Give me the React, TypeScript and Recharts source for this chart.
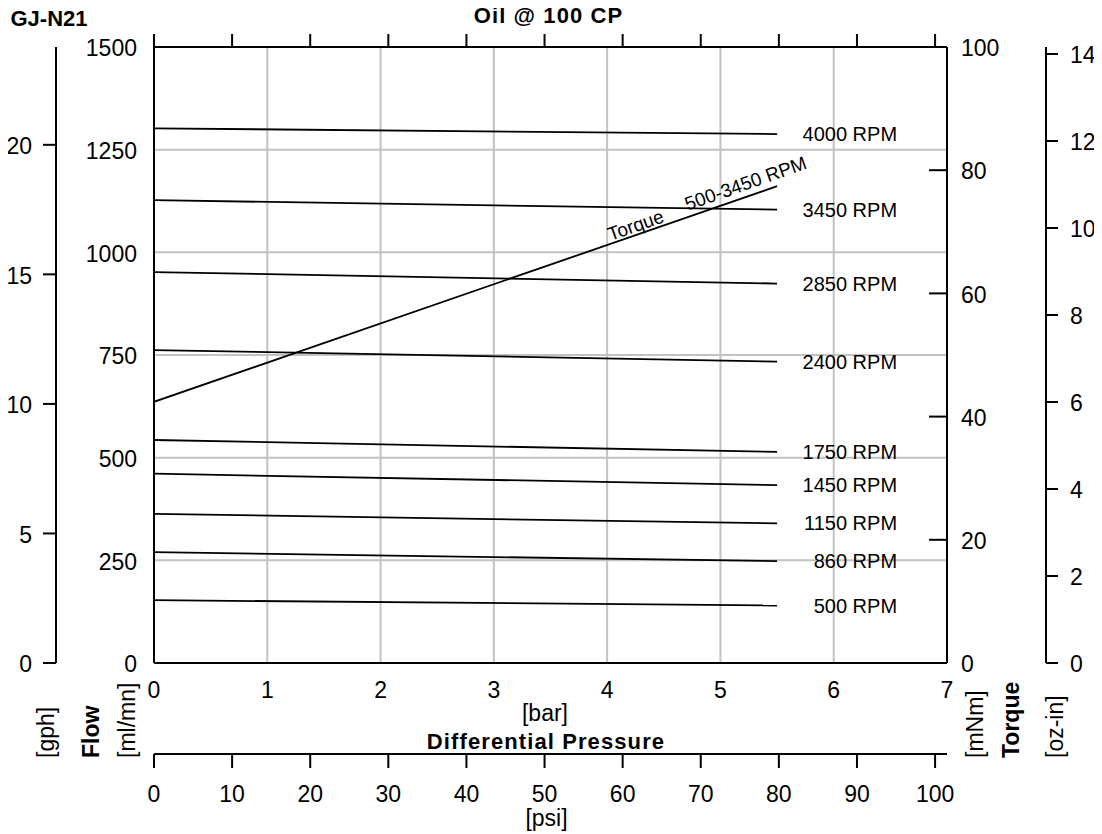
import React from 'react';
import { ComposedChart, Line, XAxis, YAxis, CartesianGrid, ReferenceDot } from 'recharts';

const FONT = "'Liberation Sans', Arial, Helvetica, sans-serif";

const CHART_TITLE = 'Oil @ 100 CP';
const MODEL = 'GJ-N21';

// x values (differential pressure, bar)
const pressureBar = [0, 5.5];

// flow (ml/min) per speed, at pressureBar
const flow4000 = [1302, 1288];
const flow3450 = [1127, 1104];
const flow2850 = [952, 924];
const flow2400 = [762, 734];
const flow1750 = [543, 514];
const flow1450 = [461, 433];
const flow1150 = [363, 340];
const flow860 = [270, 248];
const flow500 = [153, 140];

// torque (mNm) at pressureBar
const torqueMNm = [42.4, 77.4];

const rpmSeries = [
  { key: 'r4000', label: '4000 RPM', values: flow4000 },
  { key: 'r3450', label: '3450 RPM', values: flow3450 },
  { key: 'r2850', label: '2850 RPM', values: flow2850 },
  { key: 'r2400', label: '2400 RPM', values: flow2400 },
  { key: 'r1750', label: '1750 RPM', values: flow1750 },
  { key: 'r1450', label: '1450 RPM', values: flow1450 },
  { key: 'r1150', label: '1150 RPM', values: flow1150 },
  { key: 'r860', label: '860 RPM', values: flow860 },
  { key: 'r500', label: '500 RPM', values: flow500 },
];

// torque annotation (text, anchor in bar / mNm)
const torqueNoteText = ['Torque', '500-3450 RPM'];
const torqueNoteBar = [4.03, 4.71];
const torqueNoteMNm = [68.5, 73.4];

// ticks
const barTicks = [0, 1, 2, 3, 4, 5, 6, 7];
const psiTicks = [0, 10, 20, 30, 40, 50, 60, 70, 80, 90, 100];
const flowTicks = [0, 250, 500, 750, 1000, 1250, 1500];
const gphTicks = [0, 5, 10, 15, 20];
const torqueTicks = [0, 20, 40, 60, 80, 100];
const ozInTicks = [0, 2, 4, 6, 8, 10, 12, 14];

// unit conversions
const BAR_MAX = 7;
const PSI_PER_BAR = 14.5038;
const PSI_MAX = BAR_MAX * PSI_PER_BAR;
const FLOW_MAX = 1500;
const ML_MIN_PER_GPH = 3785.41 / 60;
const TORQUE_MAX = 100;
const MNM_PER_OZIN = 7.0615518;

const tableData = pressureBar.map((p, i) => {
  const row: Record<string, number> = { p, psi: p * PSI_PER_BAR };
  rpmSeries.forEach((s) => {
    row[s.key] = s.values[i];
  });
  row.torque = torqueMNm[i];
  return row;
});

// layout
const CHART_W = 1094;
const CHART_H = 826;
const TOP_H = 39;
const BAR_AXIS_H = 91;
const PSI_AXIS_H = 80;

const AXIS_LINE = { stroke: '#000', strokeWidth: 2 };
const GRID = '#c2c2c2';

const BAR_DOMAIN = [0, BAR_MAX];
const PSI_DOMAIN = [0, PSI_MAX];
const FLOW_DOMAIN = [0, FLOW_MAX];
const GPH_DOMAIN = [0, FLOW_MAX / ML_MIN_PER_GPH];
const MNM_DOMAIN = [0, TORQUE_MAX];
const OZ_DOMAIN = [0, TORQUE_MAX / MNM_PER_OZIN];

const T = ({ x, y, size, bold, anchor = 'start', rotate, ls, dy, children }: any) => (
  <text
    x={x}
    y={y}
    dy={dy}
    fontSize={size}
    fontWeight={bold ? 'bold' : 'normal'}
    textAnchor={anchor}
    fontFamily={FONT}
    fill="#000"
    letterSpacing={ls}
    transform={rotate ? `rotate(${rotate} ${x} ${y})` : undefined}
  >
    {children}
  </text>
);

const TICK_FS = 23;

const FlowTick = (p: any) => (
  <g>
    <T x={p.x - 17} y={p.y + 1} dy="0.36em" size={TICK_FS} anchor="end">
      {p.payload.value}
    </T>
  </g>
);

const GphTick = (p: any) => (
  <g>
    <line x1={p.x - 13} x2={p.x} y1={p.y} y2={p.y} stroke="#000" strokeWidth={2} />
    <T x={p.x - 24} y={p.y + 1} dy="0.36em" size={TICK_FS} anchor="end">
      {p.payload.value}
    </T>
  </g>
);

const TorqueTick = (p: any) => (
  <g>
    <line x1={p.x - 18} x2={p.x} y1={p.y} y2={p.y} stroke="#000" strokeWidth={2} />
    <T x={p.x + 14} y={p.y + 1} dy="0.36em" size={TICK_FS} anchor="start">
      {p.payload.value}
    </T>
  </g>
);

const OzTick = (p: any) => (
  <g>
    <line x1={p.x} x2={p.x + 12} y1={p.y} y2={p.y} stroke="#000" strokeWidth={2} />
    <T x={p.x + 24} y={p.y + 1} dy="0.36em" size={TICK_FS} anchor="start">
      {p.payload.value}
    </T>
  </g>
);

const BarTick = (p: any) => (
  <g>
    <T x={p.x} y={p.y + 35} size={TICK_FS} anchor="middle">
      {p.payload.value}
    </T>
  </g>
);

const PsiTick = (p: any) => (
  <g>
    <line x1={p.x} x2={p.x} y1={p.y} y2={p.y + 14} stroke="#000" strokeWidth={2} />
    <T x={p.x} y={p.y + 48} size={TICK_FS} anchor="middle">
      {p.payload.value}
    </T>
  </g>
);

// psi ticks on the top frame edge (top axis ticks)
const TopPsiTick = (p: any) => (
  <line x1={p.x} x2={p.x} y1={p.y - 13} y2={p.y} stroke="#000" strokeWidth={2} />
);

const vbOf = (p: any) => p.viewBox || { x: p.x, y: p.y, width: p.width, height: p.height };

const GphLabel = (p: any) => {
  const vb = vbOf(p);
  return (
    <T x={vb.x + vb.width - 2} y={vb.y + vb.height + 95} size={23} rotate={-90}>
      [gph]
    </T>
  );
};

const FlowLabel = (p: any) => {
  const vb = vbOf(p);
  return (
    <g>
      <T x={vb.x + 43} y={vb.y + vb.height + 95} size={23} bold rotate={-90}>
        Flow
      </T>
      <T x={vb.x + 78.5} y={vb.y + vb.height + 95} size={23} rotate={-90}>
        [ml/mn]
      </T>
    </g>
  );
};

const TorqueLabel = (p: any) => {
  const vb = vbOf(p);
  return (
    <g>
      <T x={vb.x + 36} y={vb.y + vb.height + 95} size={23} rotate={-90}>
        [mNm]
      </T>
      <T x={vb.x + 72} y={vb.y + vb.height + 95} size={23} bold rotate={-90}>
        Torque
      </T>
    </g>
  );
};

const OzLabel = (p: any) => {
  const vb = vbOf(p);
  return (
    <T x={vb.x + 17} y={vb.y + vb.height + 95} size={23} rotate={-90}>
      [oz-in]
    </T>
  );
};

const BarLabel = (p: any) => {
  const vb = vbOf(p);
  const cx = vb.x + vb.width / 2;
  return (
    <g>
      <T x={cx - 5.5} y={vb.y + 58} size={23} anchor="middle">
        [bar]
      </T>
      <T x={cx - 4.5} y={vb.y + 86} size={22} bold anchor="middle" ls={1.1}>
        Differential Pressure
      </T>
    </g>
  );
};

const PsiLabel = (p: any) => {
  const vb = vbOf(p);
  return (
    <T x={vb.x + vb.width / 2 - 4} y={vb.y + 72} size={23} anchor="middle">
      [psi]
    </T>
  );
};

const TitleLabel = (p: any) => {
  const vb = vbOf(p);
  return (
    <g>
      <T x={vb.x + vb.width / 2 - 2} y={vb.y + 15} size={22} bold anchor="middle" ls={1.1}>
        {CHART_TITLE}
      </T>
      <T x={vb.x - 143.5} y={vb.y + 18} size={22} bold>
        {MODEL}
      </T>
    </g>
  );
};

export default function App() {
  const last = pressureBar.length - 1;
  return (
    <div>
      <style>{'html,body{overflow:hidden}.recharts-surface{overflow:visible}'}</style>
      <ComposedChart
        width={CHART_W}
        height={CHART_H}
        data={tableData}
        margin={{ top: 0, right: 0, bottom: 0, left: 0 }}
        style={{ fontFamily: FONT }}
      >
        <CartesianGrid xAxisId="bar" yAxisId="flow" stroke={GRID} strokeWidth={2} verticalValues={barTicks} horizontalValues={flowTicks} />

        <XAxis xAxisId="bar" dataKey="p" type="number" orientation="bottom" domain={BAR_DOMAIN} allowDataOverflow ticks={barTicks} interval={0} height={BAR_AXIS_H} tickSize={0} tickMargin={0} tickLine={false} axisLine={AXIS_LINE} tick={BarTick} label={BarLabel} />
        <XAxis xAxisId="psi" dataKey="psi" type="number" orientation="bottom" domain={PSI_DOMAIN} allowDataOverflow ticks={psiTicks} interval={0} height={PSI_AXIS_H} tickSize={0} tickMargin={0} tickLine={false} axisLine={AXIS_LINE} tick={PsiTick} label={PsiLabel} />
        <XAxis xAxisId="psiTop" dataKey="psi" type="number" orientation="top" domain={PSI_DOMAIN} allowDataOverflow ticks={psiTicks} interval={0} height={TOP_H} tickSize={0} tickMargin={0} tickLine={false} axisLine={AXIS_LINE} tick={TopPsiTick} label={TitleLabel} />

        <YAxis yAxisId="flow" type="number" orientation="left" domain={FLOW_DOMAIN} allowDataOverflow ticks={flowTicks} interval={0} width={98} tickSize={0} tickMargin={0} tickLine={false} axisLine={AXIS_LINE} tick={FlowTick} label={FlowLabel} />
        <YAxis yAxisId="gph" type="number" orientation="left" domain={GPH_DOMAIN} allowDataOverflow ticks={gphTicks} interval={0} width={48} tickSize={0} tickMargin={0} tickLine={false} axisLine={AXIS_LINE} tick={GphTick} label={GphLabel} />
        <YAxis yAxisId="mnm" type="number" orientation="right" domain={MNM_DOMAIN} allowDataOverflow ticks={torqueTicks} interval={0} width={99} tickSize={0} tickMargin={0} tickLine={false} axisLine={AXIS_LINE} tick={TorqueTick} label={TorqueLabel} />
        <YAxis yAxisId="ozin" type="number" orientation="right" domain={OZ_DOMAIN} allowDataOverflow ticks={ozInTicks} interval={0} width={56} tickSize={0} tickMargin={0} tickLine={false} axisLine={AXIS_LINE} tick={OzTick} label={OzLabel} />

        {rpmSeries.map((s) => (
          <Line key={s.key} xAxisId="bar" yAxisId="flow" type="linear" dataKey={s.key} stroke="#000" strokeWidth={1.8} dot={false} activeDot={false} isAnimationActive={false} />
        ))}
        <Line xAxisId="bar" yAxisId="mnm" type="linear" dataKey="torque" stroke="#000" strokeWidth={1.8} dot={false} activeDot={false} isAnimationActive={false} />

        {rpmSeries.map((s) => (
          <ReferenceDot
            key={'lbl-' + s.key}
            xAxisId="bar"
            yAxisId="flow"
            x={pressureBar[last]}
            y={s.values[last]}
            r={1}
            shape={(p: any) => (
              <T x={p.cx + 120} y={p.cy + 7} size={20} anchor="end">
                {s.label}
              </T>
            )}
          />
        ))}
        {torqueNoteText.map((t, i) => (
          <ReferenceDot
            key={'tq-' + i}
            xAxisId="bar"
            yAxisId="mnm"
            x={torqueNoteBar[i]}
            y={torqueNoteMNm[i]}
            r={1}
            shape={(p: any) => (
              <T x={p.cx} y={p.cy} size={19} rotate={-19.5}>
                {t}
              </T>
            )}
          />
        ))}
      </ComposedChart>
    </div>
  );
}
